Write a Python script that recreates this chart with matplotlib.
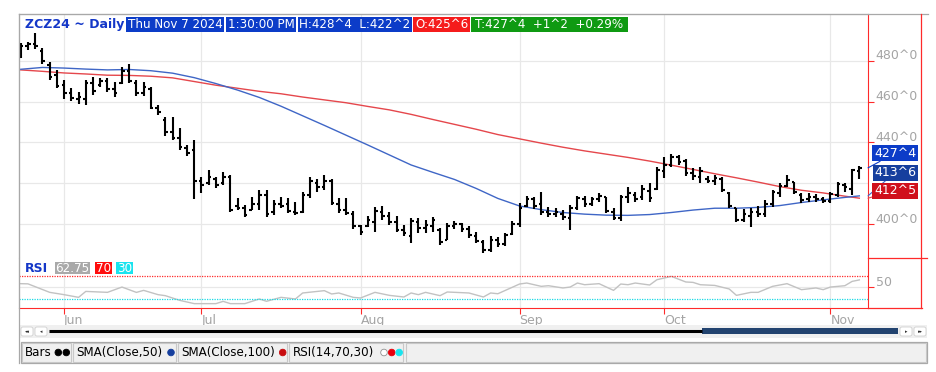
import matplotlib
matplotlib.use("Agg")
import matplotlib.pyplot as plt
from matplotlib.patches import Rectangle, Circle, FancyBboxPatch
import numpy as np
import pandas as pd

# trading days for ZCZ24 (exchange holidays removed)
holidays = ["2024-05-27", "2024-06-19", "2024-07-04", "2024-09-02"]
dates = pd.bdate_range("2024-05-23", "2024-11-07")
dates = dates[~dates.isin(pd.to_datetime(holidays))]

high = [488.75, 489.25, 493.5, 486.25, 479.5, 475.5, 470.5, 466.5, 464.75, 470.5,
        472.0, 471.5, 471.5, 469.5, 477.0, 478.5, 470.5, 469.5, 467.0, 458.25,
        452.5, 452.5, 447.0, 438.75, 441.25, 423.0, 426.5, 423.0, 425.5, 424.0,
        412.75, 409.25, 413.25, 416.75, 416.75, 411.75, 413.25, 412.75, 410.75, 415.75,
        423.0, 422.0, 424.0, 422.0, 412.75, 412.75, 406.5, 399.5, 404.0, 408.25,
        408.75, 406.0, 404.0, 399.5, 403.0, 403.0, 402.0, 403.5, 398.0, 400.5,
        401.5, 400.5, 399.0, 396.0, 392.25, 394.0, 393.5, 395.5, 401.5, 410.25,
        413.75, 413.25, 415.75, 408.25, 407.75, 407.0, 409.25, 413.75, 413.75, 413.25,
        415.25, 413.25, 407.75, 414.25, 418.0, 415.75, 419.0, 420.0, 428.0, 432.75,
        434.25, 433.75, 432.0, 427.5, 428.0, 423.5, 424.0, 423.0, 415.75, 407.75,
        407.25, 407.75, 408.75, 411.75, 416.75, 420.0, 424.0, 420.5, 415.25, 415.25,
        414.75, 413.25, 415.75, 420.5, 420.0, 427.0, 428.5]
low = [481.25, 485.25, 485.75, 478.5, 470.5, 466.5, 461.25, 460.25, 458.75, 458.25,
       463.25, 467.0, 464.75, 462.25, 468.5, 469.0, 462.75, 462.75, 456.5, 453.5,
       443.0, 441.25, 436.25, 433.25, 412.25, 415.25, 419.0, 417.5, 419.0, 406.0,
       407.0, 403.5, 407.0, 407.0, 403.5, 404.5, 407.75, 405.5, 404.5, 405.5,
       412.75, 415.5, 416.75, 409.25, 405.5, 404.5, 397.5, 394.5, 398.5, 396.0,
       402.0, 399.5, 396.0, 394.0, 390.75, 395.5, 395.5, 396.0, 389.75, 392.25,
       397.5, 396.0, 393.0, 390.75, 385.75, 386.25, 388.75, 389.25, 394.5, 398.5,
       408.25, 407.25, 404.5, 403.5, 403.5, 402.0, 397.0, 407.0, 408.25, 408.75,
       410.75, 405.5, 402.0, 401.5, 410.25, 410.75, 411.75, 410.75, 416.75, 422.5,
       428.0, 429.0, 423.5, 421.5, 420.0, 420.0, 419.0, 415.75, 407.75, 401.0,
       401.0, 398.5, 403.5, 403.5, 408.25, 413.25, 418.0, 414.75, 410.25, 410.75,
       410.75, 410.25, 410.25, 413.25, 415.75, 414.25, 422.25]
opens = [482.0, 487.0, 488.0, 485.0, 478.0, 473.0, 468.0, 464.0, 461.0, 461.0,
         469.0, 468.0, 470.0, 466.0, 469.0, 475.0, 469.0, 464.0, 466.0, 457.0,
         451.0, 445.0, 442.0, 437.0, 436.0, 421.0, 420.0, 422.0, 420.0, 423.0,
         409.0, 408.0, 407.0, 410.0, 414.0, 406.0, 410.0, 410.0, 406.0, 406.0,
         414.0, 420.0, 418.0, 421.0, 410.0, 407.0, 405.0, 399.0, 399.0, 401.0,
         406.0, 404.0, 401.0, 397.0, 394.0, 401.0, 398.0, 399.0, 397.0, 392.0,
         399.0, 400.0, 397.5, 394.0, 391.0, 387.0, 392.0, 390.0, 395.0, 400.0,
         409.0, 412.0, 410.0, 406.0, 405.0, 405.0, 403.0, 408.0, 412.0, 410.0,
         412.0, 413.0, 406.0, 403.0, 413.0, 414.0, 413.0, 416.0, 417.0, 426.0,
         429.0, 433.0, 431.0, 425.0, 423.0, 422.0, 421.0, 422.0, 415.0, 408.0,
         402.0, 404.0, 406.0, 405.0, 410.0, 415.0, 418.5, 420.5, 414.0, 412.0,
         413.0, 412.0, 411.0, 414.0, 419.0, 417.0, 425.75]
closes = [487.0, 488.0, 487.0, 480.0, 472.0, 467.5, 464.0, 461.5, 462.0, 469.0,
          465.0, 470.0, 466.0, 464.0, 475.0, 470.0, 464.0, 467.0, 457.0, 455.0,
          445.0, 442.0, 437.5, 435.0, 421.0, 419.0, 423.0, 419.0, 423.0, 407.0,
          408.0, 404.5, 410.0, 414.0, 405.0, 410.0, 409.0, 406.5, 405.5, 414.0,
          421.0, 418.0, 421.0, 410.5, 407.0, 405.5, 399.0, 396.0, 402.0, 406.5,
          404.0, 401.0, 397.0, 395.5, 401.5, 398.0, 399.5, 402.0, 391.0, 399.0,
          400.0, 397.5, 394.5, 391.5, 387.0, 392.0, 390.0, 394.5, 400.0, 408.0,
          412.0, 409.0, 406.0, 405.0, 406.0, 403.5, 408.0, 412.5, 410.0, 412.0,
          413.5, 406.5, 403.0, 413.0, 415.0, 412.0, 417.0, 412.5, 426.5, 429.0,
          433.0, 430.5, 425.0, 423.5, 426.0, 421.0, 422.5, 416.5, 409.0, 402.0,
          405.0, 406.0, 405.0, 410.0, 415.5, 418.5, 421.5, 415.5, 411.5, 413.0,
          412.0, 411.0, 414.5, 419.5, 418.0, 426.25, 427.5]

# moving averages at these bar numbers
sma_idx = [0, 3, 6, 9, 12, 15, 18, 21, 24, 27, 30, 33, 36, 39, 42, 45, 48, 51, 54, 57,
           60, 63, 66, 69, 72, 75, 78, 81, 84, 87, 90, 93, 96, 99, 102, 105, 108, 111, 114, 116]
sma50 = [475.8, 476.7, 476.4, 475.9, 475.5, 475.7, 475.1, 473.9, 471.7, 468.8,
         465.6, 462.0, 457.7, 453.0, 448.3, 443.5, 438.7, 433.8, 428.9, 425.3,
         421.8, 417.4, 412.5, 408.8, 407.0, 405.6, 404.8, 404.3, 404.2, 404.6,
         405.6, 406.8, 407.7, 407.7, 408.1, 409.0, 410.5, 411.8, 413.0, 413.75]
sma100 = [475.5, 474.8, 474.0, 473.5, 472.9, 472.8, 472.4, 471.6, 469.8, 468.0,
          466.5, 465.0, 463.8, 462.2, 460.8, 459.4, 457.6, 455.9, 453.7, 451.2,
          448.8, 446.4, 443.8, 441.7, 439.6, 437.6, 435.8, 434.2, 432.6, 430.8,
          428.8, 426.7, 424.6, 422.6, 420.5, 418.3, 416.5, 415.2, 413.6, 412.625]

rsi_idx = [0, 1, 4, 6, 8, 9, 12, 14, 16, 17, 19, 20, 22, 24, 27, 28, 29, 31, 33, 34,
           36, 38, 39, 42, 43, 44, 46, 47, 49, 51, 53, 54, 55, 56, 58, 59, 62, 64, 65, 66,
           69, 70, 72, 73, 75, 76, 77, 78, 80, 82, 83, 84, 85, 87, 88, 90, 92, 93, 94, 96,
           98, 99, 101, 102, 104, 106, 108, 110, 111, 112, 114, 115, 116]
rsi_val = [56.3, 56.0, 41.4, 37.4, 32.8, 43.0, 41.4, 50.5, 41.3, 44.8, 37.4, 35.7, 27.6, 22.0,
           22.0, 25.9, 22.0, 22.0, 30.0, 26.0, 32.8, 30.0, 40.3, 44.3, 38.6, 40.3, 32.8, 31.7,
           41.4, 36.2, 33.4, 40.3, 37.4, 41.4, 35.7, 42.0, 40.3, 33.4, 40.3, 39.0, 55.7, 57.4,
           51.7, 52.8, 48.9, 50.5, 57.4, 54.5, 56.3, 44.8, 55.7, 54.5, 57.4, 54.0, 63.1, 68.8,
           59.2, 58.5, 54.5, 53.3, 47.2, 36.2, 41.4, 41.4, 51.7, 56.3, 46.0, 48.9, 46.0, 50.5,
           52.8, 60.2, 62.75]

price_ticks = [400, 440, 460, 480]
price_grid = [400, 420, 440, 460, 480]

RED = "#ff2a2a"
GRAY_TXT = "#a4a4a4"
BLUE = "#0c3cc8"


def eighths(v):
    whole = int(v)
    return f"{whole}^{int(round((v - whole) * 8))}"


plt.rcParams["font.family"] = "DejaVu Sans"
W, H = 936, 372
fig = plt.figure(figsize=(W / 100, H / 100), dpi=100)


def rect(l, t, r, b):
    return [l / W, 1 - b / H, (r - l) / W, (b - t) / H]


ax = fig.add_axes(rect(19, 14, 868, 258))
ax_rsi = fig.add_axes(rect(19, 258, 868, 308), sharex=ax)

x = np.arange(len(dates))
month_pos = [i for i in range(1, len(dates)) if dates[i].month != dates[i - 1].month]
month_lab = [dates[i].strftime("%b") for i in month_pos]

# price bars
ax.vlines(x, low, high, color="black", lw=1.5, zorder=3)
ax.hlines(opens, x - 0.36, x, color="black", lw=1.5, zorder=3)
ax.hlines(closes, x, x + 0.36, color="black", lw=1.5, zorder=3)
ax.plot(sma_idx, sma100, color="#e5474c", lw=1.0, zorder=2)
ax.plot(sma_idx, sma50, color="#3f66c6", lw=1.0, zorder=2)

ax.set_xlim(-0.24, 117.2)
ax.set_ylim(383.3, 502.9)
for g in price_grid:
    ax.axhline(g, color="#e8e8e8", lw=0.9, zorder=0)
for m in month_pos:
    ax.axvline(m, color="#e8e8e8", lw=0.9, zorder=0)
ax.set_yticks(price_ticks)
ax.yaxis.tick_right()
ax.tick_params(axis="y", colors=RED, length=4, width=0.8, labelright=False)
ax.tick_params(axis="x", bottom=False, labelbottom=False)
for v in price_ticks:
    ax.annotate(f"{v}^0", xy=(1, v), xycoords=("axes fraction", "data"),
                xytext=(5, 1), textcoords="offset points", color=GRAY_TXT,
                fontsize=9, va="baseline", ha="left", annotation_clip=False)
for s in ["top", "left"]:
    ax.spines[s].set_color("#a8a8a8")
ax.spines["right"].set_color(RED)
ax.spines["bottom"].set_visible(False)

# last-value badges
badges = [(closes[-1], BLUE, 153.3, BLUE),
          (sma50[-1], "#163f9e", 172.5, "#3f66c6"),
          (sma100[-1], "#d0101c", 190.8, "#e5474c")]
for val, fc, ypix, lc in badges:
    ax.annotate(eighths(val), xy=(1, val), xycoords=("axes fraction", "data"),
                xytext=(895, H - ypix), textcoords="figure pixels",
                color="white", fontsize=9, ha="center", va="center",
                bbox=dict(boxstyle="square,pad=0.12", fc=fc, ec="none"),
                arrowprops=dict(arrowstyle="-", color=lc, lw=0.8, shrinkA=0, shrinkB=0),
                annotation_clip=False, zorder=6)

# RSI panel
ax_rsi.plot(rsi_idx, rsi_val, color="#c2c2c2", lw=1.0)
ax_rsi.axhline(70, color=RED, lw=0.9, ls=(0, (1, 1)))
ax_rsi.axhline(30, color="#19dbe6", lw=0.9, ls=(0, (1, 1)))
ax_rsi.axhline(50, color="#e8e8e8", lw=0.9, zorder=0)
for m in month_pos:
    ax_rsi.axvline(m, color="#e8e8e8", lw=0.9, zorder=0)
ax_rsi.set_ylim(14.5, 100.4)
ax_rsi.set_yticks([50])
ax_rsi.yaxis.tick_right()
ax_rsi.tick_params(axis="y", colors=RED, length=4, width=0.8, labelright=False)
ax_rsi.annotate("50", xy=(1, 50), xycoords=("axes fraction", "data"),
                xytext=(6, 1), textcoords="offset points", color=GRAY_TXT,
                fontsize=9, va="baseline", ha="left", annotation_clip=False)
ax_rsi.set_xticks(month_pos, month_lab, ha="left")
ax_rsi.tick_params(axis="x", colors=RED, length=4, width=0.8, labelcolor=GRAY_TXT,
                   labelsize=9, pad=0.5)
ax_rsi.spines["top"].set_visible(False)
ax_rsi.spines["left"].set_color("#a8a8a8")
for s in ["right", "bottom"]:
    ax_rsi.spines[s].set_color(RED)

# decorations in pixel space
deco = fig.add_axes([0, 0, 1, 1], zorder=10)
deco.set_xlim(0, W)
deco.set_ylim(H, 0)
deco.axis("off")
deco.patch.set_alpha(0)

deco.plot([18.5, 928], [13.5, 13.5], color="#a8a8a8", lw=0.9)
deco.plot([18.5, 18.5], [13.5, 363], color="#a8a8a8", lw=0.9)
deco.plot([921, 921], [13.5, 308], color=RED, lw=0.9)
deco.plot([868, 927], [258, 258], color=RED, lw=0.9)
deco.plot([868, 922], [308, 308], color=RED, lw=0.9)

# header
deco.text(25, 24.5, "ZCZ24 ~ Daily", color="#1437c8", fontsize=9, fontweight="bold",
          ha="left", va="center")
chg = closes[-1] - closes[-2]
pct = chg / closes[-2] * 100
head = [(126, 224, BLUE, dates[-1].strftime("%a %b ") + str(dates[-1].day) + dates[-1].strftime(" %Y")),
        (226, 296, BLUE, "1:30:00 PM"),
        (298, 412, BLUE, f"H:{eighths(high[-1])}  L:{eighths(low[-1])}"),
        (413, 470, "#f51c1c", f"O:{eighths(opens[-1])}"),
        (471, 628, "#0f9a12", f"T:{eighths(closes[-1])}  +{eighths(chg)}  +{pct:.2f}%")]
for x0, x1, c, t in head:
    deco.add_patch(Rectangle((x0, 17.3), x1 - x0, 14.4, fc=c, ec="none"))
    deco.text((x0 + x1) / 2, 24.8, t, color="white", fontsize=8.6, ha="center", va="center")

# RSI header
deco.text(25, 268, "RSI", color="#1437c8", fontsize=9, fontweight="bold", ha="left", va="center")
for x0, x1, c, t in [(55, 90, "#a9a9a9", f"{rsi_val[-1]:.2f}"), (95, 112, "#ff0c0c", "70"),
                     (116, 133, "#19e3ee", "30")]:
    deco.add_patch(Rectangle((x0, 261.7), x1 - x0, 12.3, fc=c, ec="none"))
    deco.text((x0 + x1) / 2, 268.2, t, color="white", fontsize=8.6, ha="center", va="center")

# scroll bar
deco.add_patch(Rectangle((19, 325), 908, 13, fc="#f0f0f0", ec="none"))
for bx, glyph in [(21, "◂◂"), (35, "◂"), (900, "▸"), (914, "▸▸")]:
    deco.add_patch(FancyBboxPatch((bx, 327), 12, 9, boxstyle="round,pad=0,rounding_size=2",
                                  fc="white", ec="#d0d0d0", lw=0.6))
    deco.text(bx + 6, 331.8, glyph, fontsize=3.5, color="#303030", ha="center", va="center")
deco.plot([49, 702], [331.3, 331.3], color="black", lw=2.2, solid_capstyle="butt")
deco.add_patch(Rectangle((702, 327.7), 196, 6.6, fc="#234470", ec="none"))

# indicator legend bar
deco.add_patch(Rectangle((20.5, 341.7), 906, 21.6, fc="#f0f0f0", ec="#a8a8a8", lw=0.9))
cells = [(20.5, 71.7), (71.7, 176.7), (176.7, 288.3), (288.3, 404.3)]
for x0, x1 in cells:
    deco.add_patch(Rectangle((x0 + 1, 343), x1 - x0 - 2, 19, fc="#f0f0f0", ec="#c8c8c8", lw=0.8))
deco.add_patch(Rectangle((405.5, 343), 520, 19, fc="#f0f0f0", ec="#c8c8c8", lw=0.8))
for tx, t in [(25, "Bars"), (76.7, "SMA(Close,50)"), (181.7, "SMA(Close,100)"), (293, "RSI(14,70,30)")]:
    deco.text(tx, 352.8, t, fontsize=8.6, color="black", ha="left", va="center")
for cx, fc, ec in [(58.3, "black", "black"), (66.3, "black", "black"), (171, "#163f9e", "#163f9e"),
                   (282.7, "#c80c10", "#c80c10"), (384, "white", "#909090"),
                   (391.7, "#e8000c", "#e8000c"), (399.2, "#19e3ee", "#19e3ee")]:
    deco.add_patch(Circle((cx, 352.5), 3.3, fc=fc, ec=ec, lw=0.6))

fig.savefig("out.png", dpi=100, facecolor="white")
